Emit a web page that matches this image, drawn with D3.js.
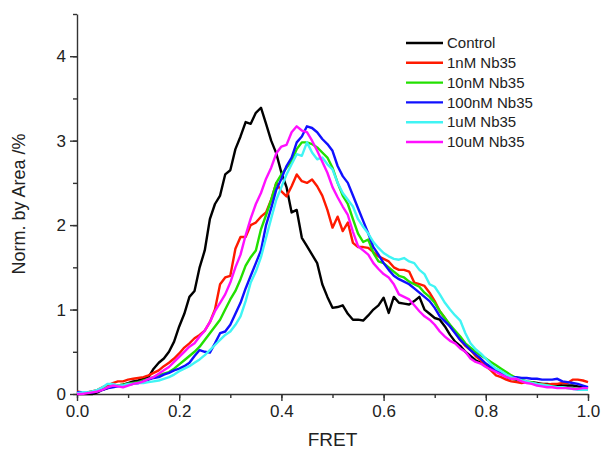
<!DOCTYPE html>
<html lang="en">
<head>
<meta charset="UTF-8">
<title>FRET histogram</title>
<script src="https://d3js.org/d3.v7.min.js"></script>
<style>
  body { margin: 0; background: #fff; font-family: 'Liberation Sans', Arial, sans-serif; }
  .curve { fill: none; stroke-width: 2.4; stroke-linejoin: round; }
  .axis path, .axis line { stroke: #333; stroke-width: 1.4; }
  .axis text { font-size: 17px; fill: #222; font-family: 'Liberation Sans', Arial, sans-serif; }
</style>
</head>
<body>
<svg id="chart" width="601" height="451"></svg>
<script>
// FRET bins 0.00 .. 1.00, step 0.01
const fret = d3.range(0, 101).map(i => i / 100);

const control = [0,0,0,0,0.02,0.05,0.07,0.09,0.1,0.11,0.13,0.15,0.16,0.18,0.2,0.3,0.37,0.42,0.5,0.62,0.8,0.95,1.15,1.22,1.5,1.7,2.07,2.25,2.35,2.6,2.65,2.9,3.05,3.22,3.2,3.33,3.39,3.2,3.0,2.85,2.62,2.45,2.15,2.18,1.85,1.75,1.65,1.55,1.3,1.15,1.02,1.03,1.05,0.95,0.88,0.88,0.87,0.93,1.0,1.05,1.14,0.96,1.15,1.08,1.07,1.06,1.1,1.15,1.0,0.95,0.9,0.88,0.8,0.7,0.62,0.57,0.5,0.45,0.4,0.37,0.33,0.3,0.27,0.24,0.2,0.18,0.17,0.15,0.14,0.14,0.13,0.12,0.12,0.11,0.11,0.1,0.1,0.1,0.09,0.08,0.07];
const nb1nM = [0.03,0.02,0.02,0.03,0.05,0.08,0.1,0.13,0.15,0.15,0.17,0.18,0.19,0.2,0.22,0.25,0.28,0.33,0.37,0.42,0.48,0.55,0.6,0.66,0.7,0.75,0.85,1.0,1.3,1.38,1.4,1.72,1.86,1.86,2.0,2.03,2.1,2.15,2.3,2.5,2.4,2.34,2.46,2.6,2.52,2.5,2.54,2.46,2.35,2.18,1.97,2.1,1.93,2.03,1.79,1.74,1.74,1.73,1.68,1.63,1.6,1.57,1.5,1.47,1.47,1.45,1.32,1.3,1.28,1.2,1.1,0.98,0.9,0.8,0.73,0.64,0.57,0.52,0.45,0.4,0.33,0.28,0.22,0.2,0.17,0.15,0.14,0.13,0.14,0.13,0.12,0.12,0.11,0.12,0.12,0.13,0.13,0.17,0.17,0.16,0.14];
const nb10nM = [0.02,0.02,0.02,0.03,0.04,0.06,0.08,0.1,0.1,0.11,0.12,0.13,0.14,0.16,0.18,0.2,0.22,0.24,0.26,0.3,0.35,0.4,0.45,0.5,0.56,0.64,0.72,0.8,0.88,1.0,1.12,1.22,1.36,1.52,1.62,1.7,1.95,2.12,2.3,2.5,2.6,2.68,2.76,2.9,2.98,2.98,2.96,2.92,2.86,2.8,2.68,2.5,2.35,2.25,2.07,1.9,1.8,1.83,1.67,1.57,1.55,1.5,1.45,1.4,1.38,1.33,1.3,1.27,1.2,1.15,1.08,0.98,0.9,0.82,0.75,0.68,0.6,0.55,0.5,0.46,0.42,0.38,0.34,0.3,0.26,0.22,0.19,0.17,0.15,0.14,0.12,0.11,0.1,0.09,0.08,0.08,0.07,0.07,0.06,0.06,0.05];
const nb100nM = [0.02,0.02,0.02,0.02,0.03,0.05,0.07,0.08,0.09,0.1,0.11,0.12,0.13,0.15,0.17,0.19,0.2,0.23,0.25,0.28,0.3,0.33,0.37,0.45,0.52,0.5,0.49,0.6,0.72,0.74,0.82,0.95,1.08,1.25,1.4,1.55,1.7,2.0,2.2,2.42,2.55,2.7,2.8,2.98,3.05,3.17,3.15,3.1,3.02,2.96,2.88,2.7,2.58,2.5,2.35,2.2,2.05,1.9,1.74,1.65,1.55,1.47,1.4,1.36,1.33,1.3,1.25,1.2,1.15,1.1,1.02,0.92,0.86,0.8,0.72,0.64,0.58,0.52,0.47,0.42,0.36,0.32,0.28,0.25,0.22,0.2,0.2,0.19,0.19,0.18,0.18,0.17,0.17,0.17,0.18,0.15,0.14,0.13,0.12,0.1,0.08];
const nb1uM = [0.01,0.02,0.02,0.03,0.05,0.08,0.12,0.12,0.1,0.1,0.12,0.12,0.13,0.13,0.14,0.15,0.16,0.18,0.2,0.23,0.27,0.3,0.33,0.37,0.41,0.46,0.52,0.58,0.64,0.7,0.74,0.82,0.92,1.1,1.32,1.45,1.62,1.85,2.08,2.3,2.45,2.6,2.72,2.84,2.82,2.98,2.86,2.78,2.8,2.72,2.66,2.5,2.38,2.3,2.22,2.07,1.98,1.9,1.8,1.73,1.67,1.63,1.6,1.59,1.61,1.57,1.55,1.47,1.42,1.3,1.27,1.18,1.08,1.0,0.93,0.87,0.72,0.6,0.53,0.48,0.42,0.35,0.3,0.27,0.23,0.2,0.18,0.16,0.15,0.13,0.12,0.11,0.1,0.09,0.08,0.08,0.07,0.06,0.05,0.05,0.05];
const nb10uM = [0,0,0.01,0.02,0.03,0.05,0.08,0.1,0.09,0.08,0.1,0.12,0.13,0.15,0.18,0.2,0.24,0.28,0.32,0.38,0.44,0.5,0.56,0.6,0.68,0.75,0.85,0.98,1.08,1.18,1.32,1.5,1.65,1.88,2.08,2.25,2.38,2.55,2.68,2.85,2.93,2.95,3.1,3.17,3.12,3.1,3.0,2.88,2.75,2.62,2.45,2.33,2.22,2.12,1.92,1.75,1.7,1.65,1.55,1.48,1.42,1.38,1.3,1.18,1.15,1.12,1.05,0.98,0.92,0.88,0.82,0.74,0.68,0.63,0.6,0.54,0.5,0.42,0.38,0.36,0.32,0.29,0.26,0.23,0.2,0.18,0.18,0.15,0.13,0.12,0.1,0.09,0.08,0.08,0.07,0.07,0.07,0.06,0.06,0.07,0.07];

const seriesNames = ["Control", "1nM Nb35", "10nM Nb35", "100nM Nb35", "1uM Nb35", "10uM Nb35"];
const seriesColors = ["#000000", "#ff1a00", "#22e000", "#1010ff", "#40f4f4", "#ff10ff"];
const seriesValues = [control, nb1nM, nb10nM, nb100nM, nb1uM, nb10uM];

const xTicks = [0, 0.2, 0.4, 0.6, 0.8, 1.0];
const yTicks = [0, 1, 2, 3, 4];

const svg = d3.select("#chart");
const margin = { top: 14, right: 13, bottom: 57, left: 77 };
const width = 601 - margin.left - margin.right;
const height = 451 - margin.top - margin.bottom;

const g = svg.append("g").attr("transform", `translate(${margin.left},${margin.top})`);

const x = d3.scaleLinear().domain([0, 1]).range([0, width]);
const y = d3.scaleLinear().domain([0, 4.5]).range([height, 0]);

// minor ticks first, then the labelled axes on top
g.append("g")
  .attr("class", "axis")
  .attr("transform", `translate(0,${height})`)
  .call(d3.axisBottom(x).tickValues(d3.range(0, 11).map(i => i / 10)).tickSize(4).tickFormat(""))
  .call(a => a.select(".domain").remove());
g.append("g")
  .attr("class", "axis")
  .call(d3.axisLeft(y).tickValues(d3.range(0, 10).map(i => i / 2)).tickSize(4).tickFormat(""))
  .call(a => a.select(".domain").remove());

g.append("g")
  .attr("class", "axis")
  .attr("transform", `translate(0,${height})`)
  .call(d3.axisBottom(x).tickValues(xTicks).tickSize(7).tickSizeOuter(0).tickPadding(4).tickFormat(d3.format(".1f")));
g.append("g")
  .attr("class", "axis")
  .call(d3.axisLeft(y).tickValues(yTicks).tickSize(7).tickSizeOuter(0).tickPadding(4).tickFormat(d3.format("d")));

// curves
const line = d3.line()
  .x((d, i) => x(fret[i]))
  .y(d => y(d));

seriesValues.forEach((vals, i) => {
  g.append("path")
    .datum(vals)
    .attr("class", "curve")
    .attr("stroke", seriesColors[i])
    .attr("d", line);
});

// axis titles
svg.append("text")
  .attr("x", margin.left + width / 2)
  .attr("y", 446)
  .attr("text-anchor", "middle")
  .style("font-size", "19px")
  .style("fill", "#222")
  .text("FRET");
svg.append("text")
  .attr("transform", `translate(25,${margin.top + height / 2}) rotate(-90)`)
  .attr("text-anchor", "middle")
  .style("font-size", "18px")
  .style("fill", "#222")
  .text("Norm. by Area /%");

// legend
const legend = svg.append("g").attr("transform", "translate(406,43)");
seriesNames.forEach((name, i) => {
  const row = legend.append("g").attr("transform", `translate(0,${i * 19.8})`);
  row.append("line")
    .attr("x1", 0).attr("x2", 37)
    .attr("stroke", seriesColors[i])
    .attr("stroke-width", 2.4);
  row.append("text")
    .attr("x", 41)
    .attr("dy", "0.35em")
    .style("font-size", "15px")
    .style("fill", "#222")
    .text(name);
});
</script>
</body>
</html>
